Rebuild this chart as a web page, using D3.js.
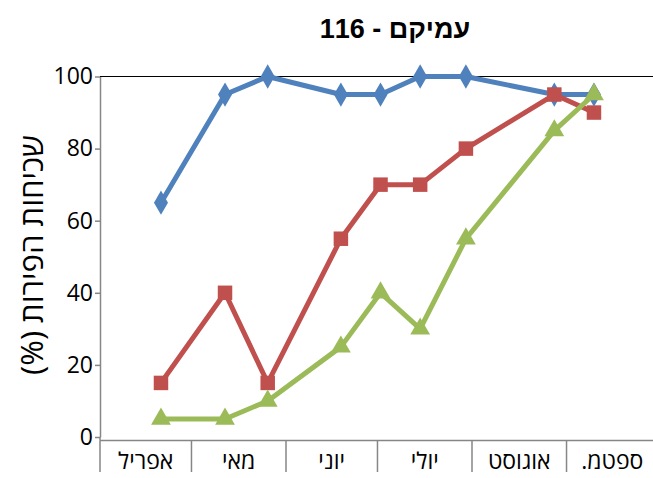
<!DOCTYPE html>
<html>
<head>
<meta charset="utf-8">
<script src="https://cdn.jsdelivr.net/npm/d3@7"></script>
<style>
  body { margin: 0; background: #fff; }
  svg { display: block; }
</style>
</head>
<body>
<div id="chart"></div>
<script>
// sampling dates and fruit frequency (%) per series
const dates = ['2013-04-21', '2013-05-12', '2013-05-26', '2013-06-19', '2013-07-02',
               '2013-07-15', '2013-07-30', '2013-08-28', '2013-09-10']
const seriesBlue = [65, 95, 100, 95, 95, 100, 100, 95, 95]
const seriesRed = [15, 40, 15, 55, 70, 70, 80, 95, 90]
const seriesGreen = [5, 5, 10, 25, 40, 30, 55, 85, 95]
const monthLabels = ['אפריל', 'מאי', 'יוני', 'יולי', 'אוגוסט', 'ספטמ.']
const yTicks = [0, 20, 40, 60, 80, 100]

const width = 653, height = 478
const margin = { top: 76.5, right: -5, bottom: 41, left: 100 }
const parse = d3.timeParse('%Y-%m-%d')
const font = '"Open Sans", "Liberation Sans", "DejaVu Sans", sans-serif'

const svg = d3.select('#chart').append('svg')
    .attr('width', width)
    .attr('height', height)

const x = d3.scaleTime()
    .domain([new Date(2013, 3, 1), new Date(2013, 9, 1)])
    .range([margin.left, width - margin.right])

const y = d3.scaleLinear()
    .domain([0, 100])
    .range([height - margin.bottom, margin.top])

// title
svg.append('text')
    .attr('x', 395)
    .attr('y', 38)
    .attr('text-anchor', 'middle')
    .style('direction', 'rtl')
    .attr('font-family', '"Liberation Sans", Arial, sans-serif')
    .attr('font-weight', 'bold')
    .attr('font-size', 27)
    .attr('fill', '#000')
    .text('עמיקם - 116')

// y axis label
svg.append('text')
    .attr('transform', `translate(43, 255) rotate(-90)`)
    .attr('text-anchor', 'middle')
    .style('direction', 'rtl')
    .attr('font-family', font)
    .attr('font-size', 31)
    .attr('fill', '#000')
    .text('שכיחות הפירות (%)')

// top gridline at 100
svg.append('line')
    .attr('x1', margin.left).attr('x2', width)
    .attr('y1', y(100)).attr('y2', y(100))
    .attr('stroke', '#000').attr('stroke-width', 1.2)

// y axis
const yAxis = svg.append('g')
    .attr('transform', `translate(${margin.left},0)`)
    .call(d3.axisLeft(y).tickValues(yTicks).tickSize(5).tickPadding(2).tickSizeOuter(0))
yAxis.select('.domain').attr('stroke', '#868686').attr('stroke-width', 1.5)
yAxis.selectAll('.tick line').attr('stroke', '#868686').attr('stroke-width', 1.5)
yAxis.selectAll('.tick text')
    .attr('font-family', font)
    .attr('font-size', 23)
    .attr('fill', '#000')

// category axis: baseline, month separators and labels
const axisY = y(0) + 3.5
svg.append('line')
    .attr('x1', margin.left).attr('x2', width)
    .attr('y1', axisY).attr('y2', axisY)
    .attr('stroke', '#868686').attr('stroke-width', 1.5)
svg.append('line')
    .attr('x1', margin.left).attr('x2', margin.left)
    .attr('y1', y(0)).attr('y2', axisY)
    .attr('stroke', '#868686').attr('stroke-width', 1.5)

const months = d3.timeMonth.range(new Date(2013, 3, 1), new Date(2013, 9, 1))
svg.append('g').selectAll('line')
    .data(months)
    .enter()
    .append('line')
    .attr('x1', d => x(d)).attr('x2', d => x(d))
    .attr('y1', axisY).attr('y2', 472)
    .attr('stroke', '#868686').attr('stroke-width', 1.5)

svg.append('g').selectAll('text')
    .data(months)
    .enter()
    .append('text')
    .attr('x', d => (x(d) + x(d3.timeMonth.offset(d, 1))) / 2)
    .attr('y', 469)
    .attr('text-anchor', 'middle')
    .style('direction', 'rtl')
    .attr('font-family', font)
    .attr('font-size', 23)
    .attr('fill', '#000')
    .text((d, i) => monthLabels[i])

// series
const series = [
    { values: seriesBlue, color: '#4F81BD', marker: d3.symbolDiamond, size: 170 },
    { values: seriesRed, color: '#C0504D', marker: d3.symbolSquare, size: 210 },
    { values: seriesGreen, color: '#9BBB59', marker: d3.symbolTriangle, size: 170 }
]

const line = d3.line()
    .x(d => x(d.date))
    .y(d => y(d.value))

series.forEach(s => {
    const pts = dates.map((d, i) => ({ date: parse(d), value: s.values[i] }))
    const g = svg.append('g')
    g.append('path')
        .datum(pts)
        .attr('d', line)
        .attr('fill', 'none')
        .attr('stroke', s.color)
        .attr('stroke-width', 5)
        .attr('stroke-linejoin', 'round')
    g.selectAll('path.marker')
        .data(pts)
        .enter()
        .append('path')
        .attr('class', 'marker')
        .attr('transform', d => `translate(${x(d.date)},${y(d.value)})`)
        .attr('d', d3.symbol().type(s.marker).size(s.size))
        .attr('fill', s.color)
})
</script>
</body>
</html>
